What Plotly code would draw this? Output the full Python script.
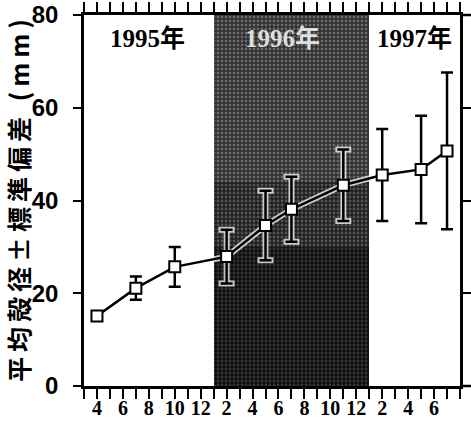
import plotly.graph_objects as go

# Month index counted from December 1994: 4 = Apr 1995, 14 = Feb 1996, 26 = Feb 1997
month_index = [4, 7, 10, 14, 17, 19, 23, 26, 29, 31]
mean_diameter = [15.1, 21.1, 25.7, 27.9, 34.6, 38.1, 43.3, 45.5, 46.7, 50.7]
std_dev = [1.0, 2.5, 4.3, 5.8, 7.5, 7.0, 7.7, 9.9, 11.6, 16.9]

tick_positions = list(range(4, 31, 2))
tick_labels = ["4", "6", "8", "10", "12", "2", "4", "6", "8", "10", "12", "2", "4", "6"]

year_labels = ["1995年", "1996年", "1997年"]
year_label_x = [7.9, 18.3, 28.5]
year_label_y = 75.0
year_label_colors = ["black", "#dedede", "black"]

y_title = "平均殻径±標準偏差 (mm)"

# 1996 shaded band (month index 13 .. 25), drawn as stacked tone bands
band_start, band_end = 13, 25
band_tones = [  # (bottom, top, background, speckle)
    (0, 30, "#0e0e0e", "#5a5a5a"),
    (30, 44, "#1e1e1e", "#8a8a8a"),
    (44, 80, "#2e2e2e", "#a8a8a8"),
]

fig = go.Figure()

for lo, hi, bg, fg in band_tones:
    fig.add_trace(go.Bar(
        x=[(band_start + band_end) / 2], y=[hi - lo], base=[lo],
        width=[band_end - band_start],
        marker=dict(color=bg, line_width=0,
                    pattern=dict(shape=".", bgcolor=bg, fgcolor=fg,
                                 size=4, solidity=0.4, fillmode="overlay")),
        showlegend=False, hoverinfo="skip",
    ))

# light halo so the series stays readable over the dark band
fig.add_trace(go.Scatter(
    x=month_index, y=mean_diameter, mode="lines",
    line=dict(color="rgba(255,255,255,0.75)", width=6),
    error_y=dict(type="data", array=std_dev, color="rgba(255,255,255,0.75)",
                 thickness=6, width=8),
    showlegend=False, hoverinfo="skip",
))

fig.add_trace(go.Scatter(
    x=month_index, y=mean_diameter, mode="lines+markers",
    line=dict(color="black", width=2.5),
    marker=dict(symbol="square", size=11, color="white",
                line=dict(color="black", width=2)),
    error_y=dict(type="data", array=std_dev, color="black",
                 thickness=2.5, width=6),
    showlegend=False,
))

for text, x, color in zip(year_labels, year_label_x, year_label_colors):
    fig.add_annotation(
        x=x, y=year_label_y, xref="x", yref="y", text=text, showarrow=False,
        font=dict(family="Liberation Serif, Noto Sans CJK JP", size=25,
                  color=color, weight="bold"),
    )

# axis line running past the right frame
fig.add_shape(type="line", xref="paper", yref="paper", x0=1, x1=1.03, y0=0, y1=0,
              line=dict(color="black", width=2.5))
fig.add_shape(type="line", xref="paper", yref="paper", x0=1, x1=1.03, y0=1, y1=1,
              line=dict(color="black", width=2.5))

fig.update_layout(
    width=471, height=423,
    margin=dict(l=84, r=11, t=15, b=37),
    paper_bgcolor="white", plot_bgcolor="white",
    barmode="overlay", bargap=0,
    xaxis=dict(
        range=[3, 32], tickmode="array", tickvals=tick_positions, ticktext=tick_labels,
        ticks="outside", ticklen=10, tickwidth=2, tickcolor="black",
        showline=True, linewidth=2.5, linecolor="black", mirror="ticks",
        minor=dict(dtick=1, tick0=3, ticks="outside", ticklen=10, tickwidth=2,
                   tickcolor="black", showgrid=False),
        showgrid=False, zeroline=False, automargin=False, ticklabelstandoff=-8,
        tickfont=dict(family="Liberation Serif", size=20, color="black", weight="bold"),
    ),
    yaxis=dict(
        range=[0, 80], tickmode="array", tickvals=[0, 20, 40, 60, 80],
        ticks="outside", ticklen=8, tickwidth=2, tickcolor="black",
        showline=True, linewidth=2.5, linecolor="black", mirror="ticks",
        showgrid=False, zeroline=False, ticklabelstandoff=10, automargin=False,
        tickfont=dict(family="Liberation Sans", size=24, color="black", weight="bold"),
        title=dict(text="\u2009".join(y_title), standoff=2,
                   font=dict(family="Noto Sans CJK JP", size=25, color="black",
                             weight="bold")),
    ),
)

fig.write_html("out.html")
